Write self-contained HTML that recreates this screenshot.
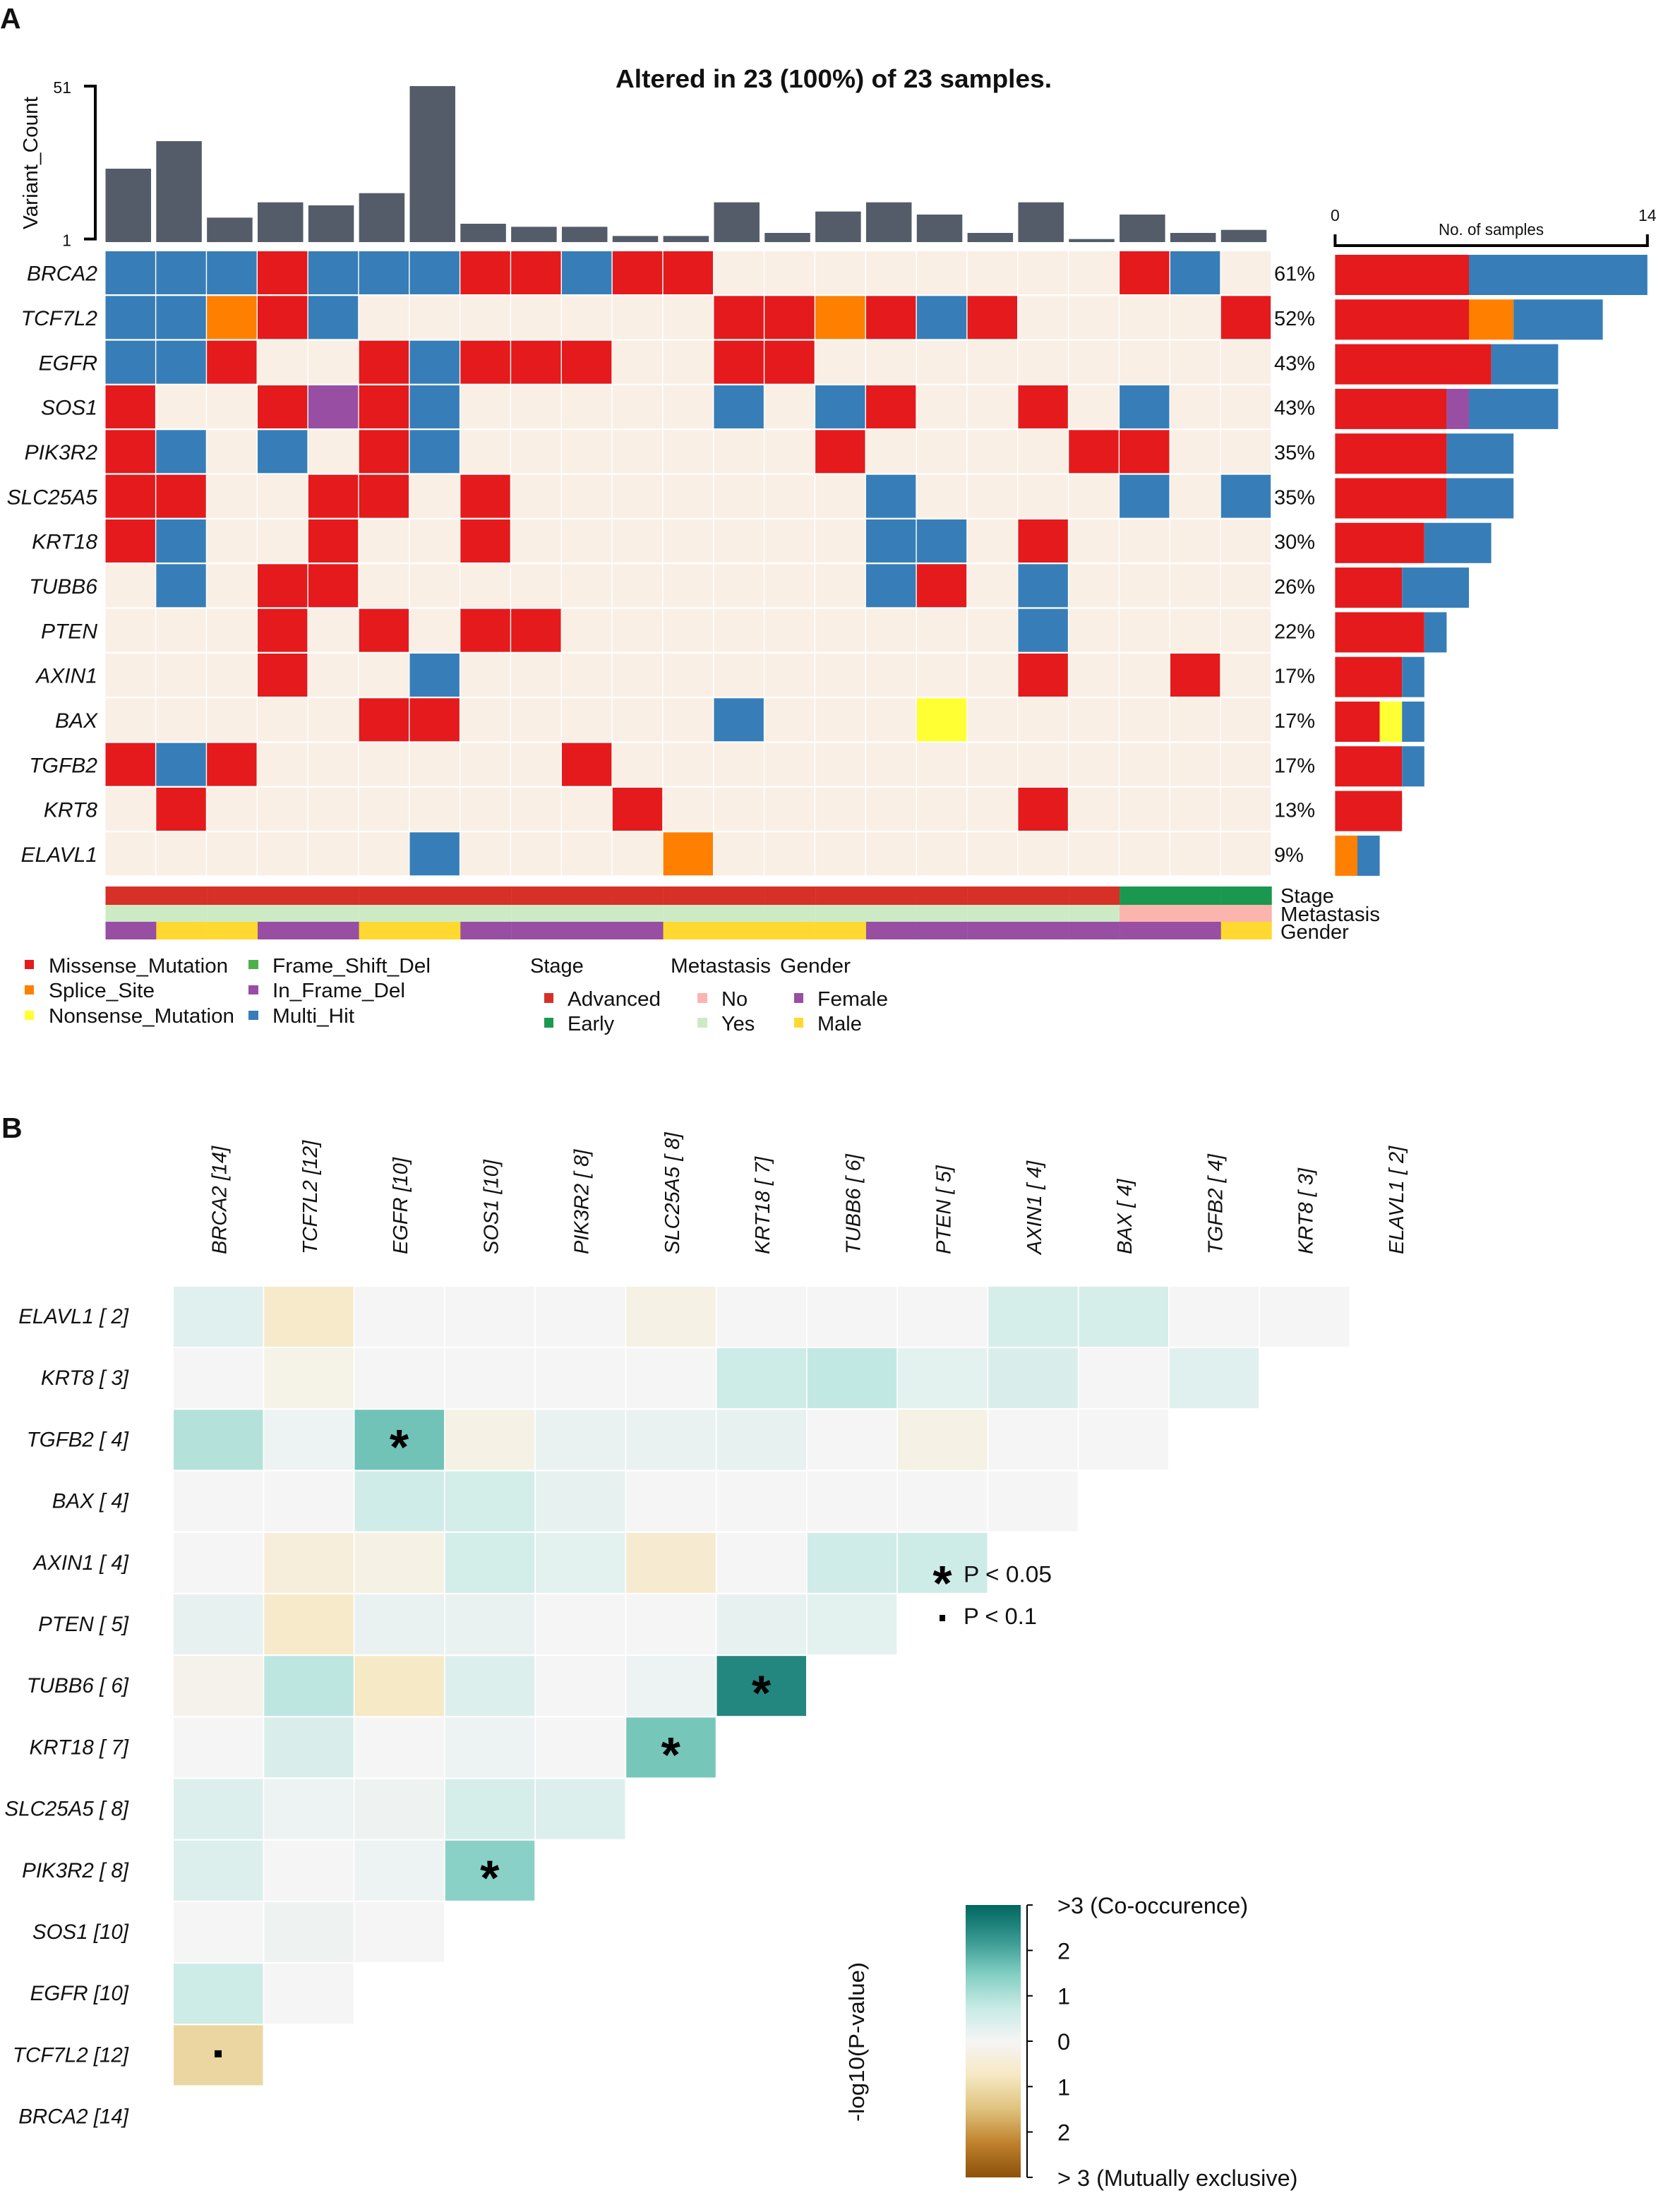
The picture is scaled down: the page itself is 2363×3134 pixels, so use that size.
<!DOCTYPE html>
<html lang="en">
<head>
<meta charset="utf-8">
<title>Oncoplot and gene co-occurrence</title>
<style>
html,body{margin:0;padding:0;background:#fff}
svg{display:block}
text{font-family:"Liberation Sans",Arial,sans-serif;fill:#111}
</style>
</head>
<body>
<svg id="fig" xmlns="http://www.w3.org/2000/svg" width="2363" height="3134" viewBox="0 0 2363 3134">
  <defs>
    <linearGradient id="brbg" x1="0" y1="0" x2="0" y2="1">
      <stop offset="0" stop-color="#01665e"/><stop offset="0.125" stop-color="#35978f"/>
      <stop offset="0.25" stop-color="#80cdc1"/><stop offset="0.375" stop-color="#c7eae5"/>
      <stop offset="0.5" stop-color="#f5f5f5"/><stop offset="0.625" stop-color="#f6e8c3"/>
      <stop offset="0.75" stop-color="#dfc27d"/><stop offset="0.875" stop-color="#bf812d"/>
      <stop offset="1" stop-color="#8c510a"/>
    </linearGradient>
  </defs>
  <rect width="2363" height="3134" fill="#fff"/>
  <text x="0" y="40" font-size="41" font-weight="bold">A</text>
  <text x="2" y="1612" font-size="41" font-weight="bold">B</text>
  <text x="872" y="124" font-size="36" font-weight="bold" textLength="618" lengthAdjust="spacingAndGlyphs">Altered in 23 (100%) of 23 samples.</text>
  <text transform="translate(53,231) rotate(-90)" text-anchor="middle" font-size="29" textLength="188" lengthAdjust="spacingAndGlyphs">Variant_Count</text>
  <text x="2038" y="333" font-size="23" textLength="149" lengthAdjust="spacingAndGlyphs">No. of samples</text>

  <g id="oncoLegend" font-size="29">
    <rect x="35" y="1360" width="13" height="13" fill="#e41a1c"/>
    <text x="69" y="1378" font-size="29" textLength="254" lengthAdjust="spacingAndGlyphs">Missense_Mutation</text>
    <rect x="35" y="1396" width="13" height="13" fill="#ff7f00"/>
    <text x="69" y="1413" font-size="29" textLength="150" lengthAdjust="spacingAndGlyphs">Splice_Site</text>
    <rect x="35" y="1432" width="13" height="13" fill="#ffff33"/>
    <text x="69" y="1449" font-size="29" textLength="263" lengthAdjust="spacingAndGlyphs">Nonsense_Mutation</text>
    <rect x="352" y="1360" width="14" height="13" fill="#4daf4a"/>
    <text x="386" y="1378" font-size="29" textLength="224" lengthAdjust="spacingAndGlyphs">Frame_Shift_Del</text>
    <rect x="352" y="1396" width="14" height="13" fill="#984ea3"/>
    <text x="386" y="1413" font-size="29" textLength="188" lengthAdjust="spacingAndGlyphs">In_Frame_Del</text>
    <rect x="352" y="1432" width="14" height="13" fill="#377eb8"/>
    <text x="386" y="1449" font-size="29" textLength="116" lengthAdjust="spacingAndGlyphs">Multi_Hit</text>
  </g>
  <g id="clinicalLegend">
    <text x="751" y="1378" font-size="29">Stage</text>
    <text x="950" y="1378" font-size="29" textLength="142" lengthAdjust="spacingAndGlyphs">Metastasis</text>
    <text x="1105" y="1378" font-size="29" textLength="100" lengthAdjust="spacingAndGlyphs">Gender</text>
    <rect x="771" y="1407" width="13" height="14" fill="#d73027"/>
    <text x="804" y="1425" font-size="29" textLength="132" lengthAdjust="spacingAndGlyphs">Advanced</text>
    <rect x="771" y="1442" width="13" height="14" fill="#1a9850"/>
    <text x="804" y="1460" font-size="29">Early</text>
    <rect x="988" y="1407" width="14" height="14" fill="#fbb4ae"/>
    <text x="1022" y="1425" font-size="29">No</text>
    <rect x="988" y="1442" width="14" height="14" fill="#ccebc5"/>
    <text x="1022" y="1460" font-size="29">Yes</text>
    <rect x="1125" y="1407" width="13" height="14" fill="#984ea3"/>
    <text x="1158" y="1425" font-size="29" textLength="100" lengthAdjust="spacingAndGlyphs">Female</text>
    <rect x="1125" y="1442" width="13" height="14" fill="#ffd92f"/>
    <text x="1158" y="1460" font-size="29">Male</text>
  </g>
  <text x="1814" y="1279" font-size="29">Stage</text>
  <text x="1814" y="1305" font-size="29" textLength="141" lengthAdjust="spacingAndGlyphs">Metastasis</text>
  <text x="1814" y="1330" font-size="29">Gender</text>

  <rect x="1368" y="2699" width="78" height="386" fill="url(#brbg)"/>
  <text transform="translate(1224,2893) rotate(-90)" text-anchor="middle" font-size="31" textLength="226" lengthAdjust="spacingAndGlyphs">-log10(P-value)</text>

  <g id="layer"></g>

  <g>
    <text x="1335" y="2267" font-size="70" font-weight="bold" text-anchor="middle" style="fill:#000">*</text>
    <text x="1365" y="2241.5" font-size="32" textLength="125" lengthAdjust="spacingAndGlyphs">P &lt; 0.05</text>
    <rect x="1331" y="2288" width="8" height="9" fill="#000"/>
    <text x="1365" y="2301" font-size="32" textLength="104" lengthAdjust="spacingAndGlyphs">P &lt; 0.1</text>
  </g>
</svg>
<script>
// ---- Oncoplot data ----
const genes = ['BRCA2','TCF7L2','EGFR','SOS1','PIK3R2','SLC25A5','KRT18','TUBB6','PTEN','AXIN1','BAX','TGFB2','KRT8','ELAVL1'];
const percentLabels = ['61%','52%','43%','43%','35%','35%','30%','26%','22%','17%','17%','17%','13%','9%'];
const variantCounts = [24,33,8,13,12,16,51,6,5,5,2,2,13,3,10,13,9,3,13,1,9,3,4];
const variantTicks = [51,1];
// one string per gene, one letter per sample: R missense, O splice, Y nonsense, P in-frame, B multi-hit
const rowBRCA2  = 'BBBRBBBRRBRR........RB.';
const rowTCF7L2 = 'BBORB.......RRORBR....R';
const rowEGFR   = 'BBR..RBRRR..RR.........';
const rowSOS1   = 'R..RPRB.....B.BR..R.B..';
const rowPIK3R2 = 'RB.B.RB.......R....RR..';
const rowSLC25A5= 'RR..RR.R.......B....B.B';
const rowKRT18  = 'RB..R..R.......BB.R....';
const rowTUBB6  = '.B.RR..........BR.B....';
const rowPTEN   = '...R.R.RR.........B....';
const rowAXIN1  = '...R..B...........R..R.';
const rowBAX    = '.....RR.....B...Y......';
const rowTGFB2  = 'RBR......R.............';
const rowKRT8   = '.R........R.......R....';
const rowELAVL1 = '......B....O...........';
const oncoRows = [rowBRCA2,rowTCF7L2,rowEGFR,rowSOS1,rowPIK3R2,rowSLC25A5,rowKRT18,rowTUBB6,rowPTEN,rowAXIN1,rowBAX,rowTGFB2,rowKRT8,rowELAVL1];
const stageTrack      = 'AAAAAAAAAAAAAAAAAAAAEEE';
const metastasisTrack = 'YYYYYYYYYYYYYYYYYYYYNNN';
const genderTrack     = 'FMMFFMMFFFFMMMMFFFFFFFM';
// side bars: samples per gene, per class
const missenseCounts = [6,6,7,5,5,5,4,3,4,3,2,3,3,0];
const spliceCounts   = [0,2,0,0,0,0,0,0,0,0,0,0,0,1];
const nonsenseCounts = [0,0,0,0,0,0,0,0,0,0,1,0,0,0];
const inFrameCounts  = [0,0,0,1,0,0,0,0,0,0,0,0,0,0];
const multiHitCounts = [8,4,3,4,3,3,3,3,1,1,1,1,0,1];
const sideTicks = [0,14];

// ---- Co-occurrence data: signed -log10(P), one row per gene, columns in column-label order ----
const heatColumns = ['BRCA2 [14]','TCF7L2 [12]','EGFR [10]','SOS1 [10]','PIK3R2 [ 8]','SLC25A5 [ 8]','KRT18 [ 7]','TUBB6 [ 6]','PTEN [ 5]','AXIN1 [ 4]','BAX [ 4]','TGFB2 [ 4]','KRT8 [ 3]','ELAVL1 [ 2]'];
const heatRowLabels = ['ELAVL1 [ 2]','KRT8 [ 3]','TGFB2 [ 4]','BAX [ 4]','AXIN1 [ 4]','PTEN [ 5]','TUBB6 [ 6]','KRT18 [ 7]','SLC25A5 [ 8]','PIK3R2 [ 8]','SOS1 [10]','EGFR [10]','TCF7L2 [12]','BRCA2 [14]'];
const heatELAVL1 = [0.35,-0.65,0,0,0,-0.25,0,0,0,0.5,0.5,0,0];
const heatKRT8   = [0,-0.2,0,0,0,0,0.65,0.8,0.3,0.45,0,0.35];
const heatTGFB2  = [0.95,0.15,1.65,-0.25,0.2,0.2,0.25,0,-0.25,0,0];
const heatBAX    = [0,0,0.6,0.55,0.25,0,0,0,0,0];
const heatAXIN1  = [0,-0.4,-0.25,0.55,0.3,-0.55,0,0.6,0.65];
const heatPTEN   = [0.25,-0.65,0.2,0.2,0,0,0.25,0.3];
const heatTUBB6  = [-0.15,0.85,-0.7,0.4,0,0.15,2.5];
const heatKRT18  = [0,0.45,0,0.15,0,1.6];
const heatSLC25A5= [0.4,0.15,0.12,0.5,0.4];
const heatPIK3R2 = [0.4,0,0.15,1.4];
const heatSOS1   = [0,0.12,0];
const heatEGFR   = [0.65,0];
const heatTCF7L2 = [-1.1];
const heatBRCA2  = [];
const heatRows = [heatELAVL1,heatKRT8,heatTGFB2,heatBAX,heatAXIN1,heatPTEN,heatTUBB6,heatKRT18,heatSLC25A5,heatPIK3R2,heatSOS1,heatEGFR,heatTCF7L2,heatBRCA2];
const colorbarTicks = [3,2,1,0,-1,-2,-3];
const colorbarLabels = ['>3 (Co-occurence)','2','1','0','1','2','> 3 (Mutually exclusive)'];

// ---- Scales ----
const colX = i => 149.5 + i * 71.83;
const rowY = i => 356 + i * 63.33;
const variantY = v => 343 - v * 221 / 51;
const sideX = n => 1891.4 + n * 31.6;
const sideY = i => 361 + i * 63.3;
const heatX = i => 246 + i * 128.25;
const heatY = i => 1823 + i * 87.2;
const cbarY = v => 2892 - v * 64.3;
const mutationFill = {R:'#e41a1c',O:'#ff7f00',Y:'#ffff33',P:'#984ea3',B:'#377eb8','.':'#f9efe5'};
const mutationName = {R:'missense',O:'splice-site',Y:'nonsense',P:'in-frame-del',B:'multi-hit','.':'no-mutation'};
const trackFill = {A:'#d73027',E:'#1a9850',Y:'#ccebc5',N:'#fbb4ae',F:'#984ea3',M:'#ffd92f'};
const brbg = [[-3,[140,81,10]],[-2.25,[191,129,45]],[-1.5,[223,194,125]],[-0.75,[246,232,195]],[0,[245,245,245]],[0.75,[199,234,229]],[1.5,[128,205,193]],[2.25,[53,151,143]],[3,[1,102,94]]];
function heatColor(v){
  const x = Math.max(-3, Math.min(3, v));
  for (let k = 0; k < brbg.length - 1; k++) {
    const a = brbg[k], b = brbg[k + 1];
    if (x <= b[0]) {
      const t = (x - a[0]) / (b[0] - a[0]);
      return 'rgb(' + a[1].map((c, j) => Math.round(c + (b[1][j] - c) * t)).join(',') + ')';
    }
  }
  return 'rgb(1,102,94)';
}

const layer = document.getElementById('layer');
const NS = 'http://www.w3.org/2000/svg';
function mark(tag, attrs, name){
  const el = document.createElementNS(NS, tag);
  for (const k in attrs) el.setAttribute(k, attrs[k]);
  
  
  layer.appendChild(el);
  return el;
}
function label(str, attrs, name){
  const el = mark('text', attrs, name);
  el.textContent = str;
  return el;
}

// Variant count bars + axis
variantCounts.forEach((v, i) => {
  mark('rect', {x:colX(i), y:variantY(v), width:64.5, height:343 - variantY(v), fill:'#535c68'}, 'variant-bar-' + (i + 1));
});
mark('path', {d:'M119 ' + variantY(variantTicks[0]) + 'H135V' + variantY(variantTicks[1]) + 'H119', fill:'none', stroke:'#000', 'stroke-width':4}, 'variant-count-axis');
variantTicks.forEach(t => {
  label(String(t), {x:101, y:variantY(t) + 10, 'font-size':23, 'text-anchor':'end'}, 'variant-tick-' + t);
});

// Oncoplot cells + labels
oncoRows.forEach((row, r) => {
  const g = genes[r];
  row.split('').forEach((c, i) => {
    mark('rect', {x:colX(i), y:rowY(r), width:70.4, height:61, fill:mutationFill[c]}, 'cell-' + g.toLowerCase() + '-' + (i + 1) + '-' + mutationName[c]);
  });
  label(g, {x:138, y:rowY(r) + 41.7, 'font-size':30, 'font-style':'italic', 'text-anchor':'end'}, 'gene-label-' + g.toLowerCase());
  label(percentLabels[r], {x:1805, y:rowY(r) + 41.7, 'font-size':29}, 'percent-label-' + g.toLowerCase());
});

// Clinical tracks
[[stageTrack,1256,26,'stage'],[metastasisTrack,1282,24,'metastasis'],[genderTrack,1306,25,'gender']].forEach(t => {
  t[0].split('').forEach((c, i) => {
    mark('rect', {x:colX(i), y:t[1], width:72, height:t[2], fill:trackFill[c]}, 'track-' + t[3] + '-' + (i + 1));
  });
});

// Side stacked bars + axis
genes.forEach((g, r) => {
  const parts = [[missenseCounts[r],'R'],[spliceCounts[r],'O'],[nonsenseCounts[r],'Y'],[inFrameCounts[r],'P'],[multiHitCounts[r],'B']];
  let acc = 0;
  parts.forEach(p => {
    if (p[0] > 0) {
      mark('rect', {x:sideX(acc), y:sideY(r), width:sideX(acc + p[0]) - sideX(acc), height:57, fill:mutationFill[p[1]]}, 'side-bar-' + g.toLowerCase() + '-' + mutationName[p[1]]);
    }
    acc += p[0];
  });
});
mark('path', {d:'M' + sideX(sideTicks[0]) + ' 332V348H' + sideX(sideTicks[1]) + 'V332', fill:'none', stroke:'#000', 'stroke-width':4}, 'side-axis');
sideTicks.forEach(t => {
  label(String(t), {x:sideX(t), y:313, 'font-size':23, 'text-anchor':'middle'}, 'side-tick-' + t);
});

// Heatmap
heatColumns.forEach((s, i) => {
  label(s, {transform:'translate(' + (heatX(i) + 74.5) + ',1777) rotate(-90)', 'font-size':29, 'font-style':'italic'}, 'heat-column-label-' + (i + 1));
});
heatRowLabels.forEach((s, r) => {
  label(s, {x:182, y:heatY(r) + 52, 'font-size':29.5, 'font-style':'italic', 'text-anchor':'end'}, 'heat-row-label-' + (r + 1));
  heatRows[r].forEach((v, i) => {
    const cx = heatX(i) + 63, cy = heatY(r) + 42.5;
    mark('rect', {x:heatX(i), y:heatY(r), width:126.5, height:85, fill:heatColor(v)}, 'heat-cell-' + r + '-' + i);
    if (Math.abs(v) >= 1.3) {
      label('*', {x:cx, y:cy + 34, 'font-size':70, 'font-weight':'bold', 'text-anchor':'middle', style:'fill:#000'}, 'heat-star-' + r + '-' + i);
    } else if (Math.abs(v) >= 1) {
      mark('rect', {x:cx - 5, y:cy - 7, width:10, height:10, fill:'#000'}, 'heat-dot-' + r + '-' + i);
    }
  });
});

// Colorbar axis
mark('line', {x1:1455, x2:1455, y1:cbarY(colorbarTicks[0]), y2:cbarY(colorbarTicks[6]), stroke:'#000', 'stroke-width':2}, 'colorbar-axis');
colorbarTicks.forEach((t, k) => {
  mark('line', {x1:1455, x2:1463, y1:cbarY(t), y2:cbarY(t), stroke:'#000', 'stroke-width':2}, 'colorbar-tick-' + k);
  label(colorbarLabels[k], {x:1498, y:cbarY(t) + 12, 'font-size':32.5}, 'colorbar-label-' + k);
});
</script>
</body>
</html>
